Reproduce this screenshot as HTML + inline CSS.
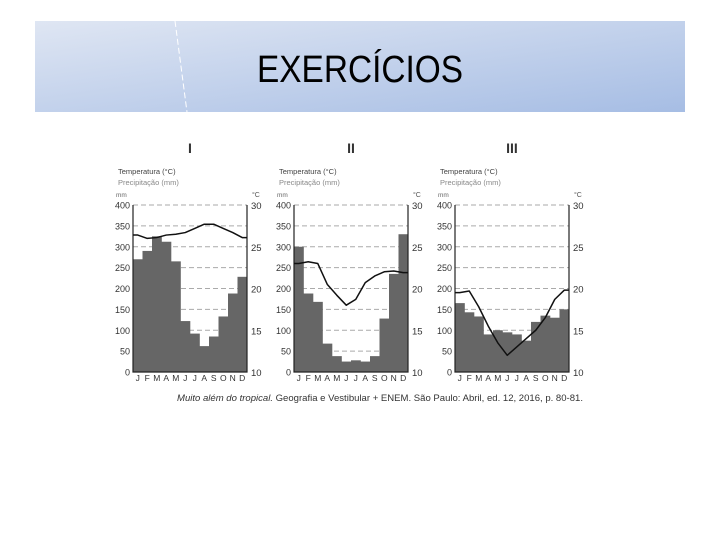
<!DOCTYPE html>
<html><head><meta charset="utf-8"><style>
html,body{margin:0;padding:0;background:#fff;}
svg{display:block;font-family:"Liberation Sans",sans-serif;}
</style></head><body>
<svg id="root" width="720" height="540" viewBox="0 0 720 540">
<defs>
<linearGradient id="hg" x1="0" y1="0" x2="1" y2="1">
<stop offset="0" stop-color="#dfe6f3"/><stop offset="1" stop-color="#a6bde4"/>
</linearGradient>
</defs>
<rect x="35" y="21" width="650" height="91" fill="url(#hg)"/>
<line x1="175" y1="21" x2="187" y2="112" stroke="#fff" stroke-width="1" stroke-dasharray="6,3"/>
<text x="360" y="82" text-anchor="middle" font-size="38" textLength="206" lengthAdjust="spacingAndGlyphs" fill="#000">EXERCÍCIOS</text>
<g id="charts"></g>
<text x="177" y="401" font-size="9.5" fill="#333" textLength="406" lengthAdjust="spacingAndGlyphs"><tspan font-style="italic">Muito além do tropical.</tspan> Geografia e Vestibular + ENEM. São Paulo: Abril, ed. 12, 2016, p. 80-81.</text>
</svg>
<script>
const months = ["J","F","M","A","M","J","J","A","S","O","N","D"];
const mmTicks = [0,50,100,150,200,250,300,350,400];
const tTicks = [10,15,20,25,30];
const titles = ["I","II","III"];
const precipI = [270,290,325,312,265,122,92,62,85,133,188,228];
const tempI = [26.4,26.0,26.1,26.4,26.5,26.7,27.2,27.7,27.7,27.2,26.7,26.1];
const precipII = [300,188,168,68,38,25,28,25,38,128,235,330];
const tempII = [23.0,23.2,23.0,20.5,19.2,18.0,18.7,20.7,21.5,22.0,22.1,21.9];
const precipIII = [165,143,133,90,100,95,90,75,120,135,130,150];
const tempIII = [19.5,19.7,17.8,15.5,13.5,12.0,13.0,14.0,15.0,16.5,18.7,19.8];
const precip = [precipI, precipII, precipIII];
const temps = [tempI, tempII, tempIII];

const NS = "http://www.w3.org/2000/svg";
const chartsRoot = document.getElementById("charts");
function mk(tag, attrs, parent){const e=document.createElementNS(NS,tag);for(const k in attrs)e.setAttribute(k,attrs[k]);(parent||chartsRoot).appendChild(e);return e;}
const lefts=[133,294,455], W=114, yTop=205, yBot=372;
for(let c=0;c<3;c++){
  const x0=lefts[c], x1=x0+W;
  const g=mk("g",{});
  
  
  const y=v=>yBot-(v/400)*(yBot-yTop);
  const yt=t=>yBot-((t-10)/20)*(yBot-yTop);
  const bw=W/12;
  const xc=i=>x0+bw*(i+0.5);
  const tt=mk("text",{x:(x0+x1)/2,y:153,"text-anchor":"middle","font-size":14,"font-weight":"bold",fill:"#333"},g);tt.textContent=titles[c];
  
  
  const l1=mk("text",{x:x0-15,y:174,"font-size":7.5,fill:"#444"},g);l1.textContent="Temperatura (°C)";
  
  
  const l2=mk("text",{x:x0-15,y:185,"font-size":7.5,fill:"#888"},g);l2.textContent="Precipitação (mm)";
  
  
  const u1=mk("text",{x:x0-17,y:197,"font-size":6.5,fill:"#666"},g);u1.textContent="mm";
  
  
  const u2=mk("text",{x:x1+5,y:197,"font-size":7,fill:"#555"},g);u2.textContent="°C";
  
  
  mmTicks.forEach(v=>{
    if(v>0){const gl=mk("line",{x1:x0,x2:x1,y1:y(v),y2:y(v),stroke:"#aaa","stroke-width":1,"stroke-dasharray":"5,3"},g);
    
    }
    const t=mk("text",{x:x0-3,y:y(v)+3.5,"text-anchor":"end","font-size":9,fill:"#333"},g);t.textContent=v;
    
    
  });
  precip[c].forEach((v,i)=>{
    const r=mk("rect",{x:x0+bw*i,y:y(v),width:bw+0.3,height:yBot-y(v),fill:"#666"},g);
    
    
  });
  tTicks.forEach(v=>{
    const t=mk("text",{x:x1+4,y:yt(v)+4,"font-size":9.5,fill:"#333"},g);t.textContent=v;
    
    
  });
  months.forEach((m,i)=>{
    const t=mk("text",{x:xc(i),y:yBot+9,"text-anchor":"middle","font-size":8.5,fill:"#333"},g);t.textContent=m;
    
    
  });
  const ax=mk("path",{d:`M${x0},${yTop} V${yBot} H${x1} V${yTop}`,fill:"none",stroke:"#222","stroke-width":1.2},g);
  
  
  const tv=temps[c];
  let d=`M${x0},${yt(tv[0])}`;
  tv.forEach((t,i)=>{d+=` L${xc(i)},${yt(t)}`;});
  d+=` L${x1},${yt(tv[11])}`;
  const ln=mk("path",{d,fill:"none",stroke:"#111","stroke-width":1.5,"stroke-linejoin":"round"},g);
  
  
}
</script>
</body></html>
